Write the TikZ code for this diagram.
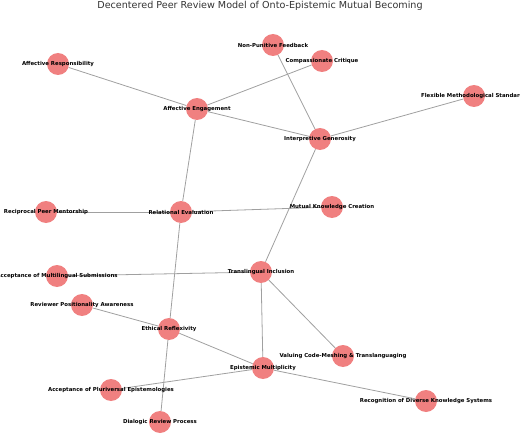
\documentclass[tikz,border=0pt]{standalone}
\usepackage{fontspec}
\setmainfont{DejaVu Sans}
\usepackage{tikz}
\usetikzlibrary{backgrounds}
\usepackage{xcolor}
\definecolor{rvcoral}{RGB}{240,128,128}
\definecolor{rvgray}{RGB}{160,160,160}
\definecolor{rvtitle}{RGB}{51,51,51}
\tikzstyle{concept} = [circle, minimum size=22pt, inner sep=0pt, fill=rvcoral, draw=none]
\tikzstyle{tag} = [font=\fontsize{5.4}{6.5}\selectfont\bfseries, inner sep=0pt, text=black]
\tikzstyle{link} = [draw=rvgray, line width=0.8pt]

\begin{document}
\begin{tikzpicture}[x=1pt, y=-1pt]
\clip (0,0) rectangle (520,436);
\node[font=\fontsize{9.6}{11}\selectfont, text=rvtitle] (title) at (260,6) {Decentered Peer Review Model of Onto-Epistemic Mutual Becoming};

% Concepts
\node[concept] (npf) at (273,45) {};
\node[concept] (cc) at (322,61) {};
\node[concept] (ar) at (58,64) {};
\node[concept] (fms) at (474,96) {};
\node[concept] (ae) at (197,109) {};
\node[concept] (ig) at (320,139) {};
\node[concept] (mkc) at (332,207) {};
\node[concept] (rpm) at (46,212) {};
\node[concept] (re) at (181,212) {};
\node[concept] (ti) at (261,272) {};
\node[concept] (ams) at (57,276) {};
\node[concept] (rpa) at (82,305) {};
\node[concept] (er) at (169,329) {};
\node[concept] (vcm) at (343,356) {};
\node[concept] (em) at (263,368) {};
\node[concept] (ape) at (111,390) {};
\node[concept] (rdk) at (426,401) {};
\node[concept] (drp) at (160,422) {};

% Links
\begin{scope}[on background layer]
\draw[link] (ar) -- (ae);
\draw[link] (cc) -- (ae);
\draw[link] (npf) -- (ig);
\draw[link] (ae) -- (ig);
\draw[link] (fms) -- (ig);
\draw[link] (ae) -- (re);
\draw[link] (ig) -- (ti);
\draw[link] (rpm) -- (re);
\draw[link] (re) -- (mkc);
\draw[link] (re) -- (er);
\draw[link] (ams) -- (ti);
\draw[link] (ti) -- (em);
\draw[link] (ti) -- (vcm);
\draw[link] (rpa) -- (er);
\draw[link] (er) -- (em);
\draw[link] (er) -- (drp);
\draw[link] (ape) -- (em);
\draw[link] (em) -- (rdk);
\end{scope}

% Labels
\node[tag] (npf-t) at (npf) {Non-Punitive Feedback};
\node[tag] (cc-t) at (cc) {Compassionate Critique};
\node[tag] (ar-t) at (ar) {Affective Responsibility};
\node[tag] (fms-t) at (fms) {Flexible Methodological Standards};
\node[tag] (ae-t) at (ae) {Affective Engagement};
\node[tag] (ig-t) at (ig) {Interpretive Generosity};
\node[tag] (mkc-t) at (mkc) {Mutual Knowledge Creation};
\node[tag] (rpm-t) at (rpm) {Reciprocal Peer Mentorship};
\node[tag] (re-t) at (re) {Relational Evaluation};
\node[tag] (ti-t) at (ti) {Translingual Inclusion};
\node[tag] (ams-t) at (ams) {Acceptance of Multilingual Submissions};
\node[tag] (rpa-t) at (rpa) {Reviewer Positionality Awareness};
\node[tag] (er-t) at (er) {Ethical Reflexivity};
\node[tag] (vcm-t) at (vcm) {Valuing Code-Meshing \& Translanguaging};
\node[tag] (em-t) at (em) {Epistemic Multiplicity};
\node[tag] (ape-t) at (ape) {Acceptance of Pluriversal Epistemologies};
\node[tag] (rdk-t) at (rdk) {Recognition of Diverse Knowledge Systems};
\node[tag] (drp-t) at (drp) {Dialogic Review Process};
\end{tikzpicture}
\end{document}
